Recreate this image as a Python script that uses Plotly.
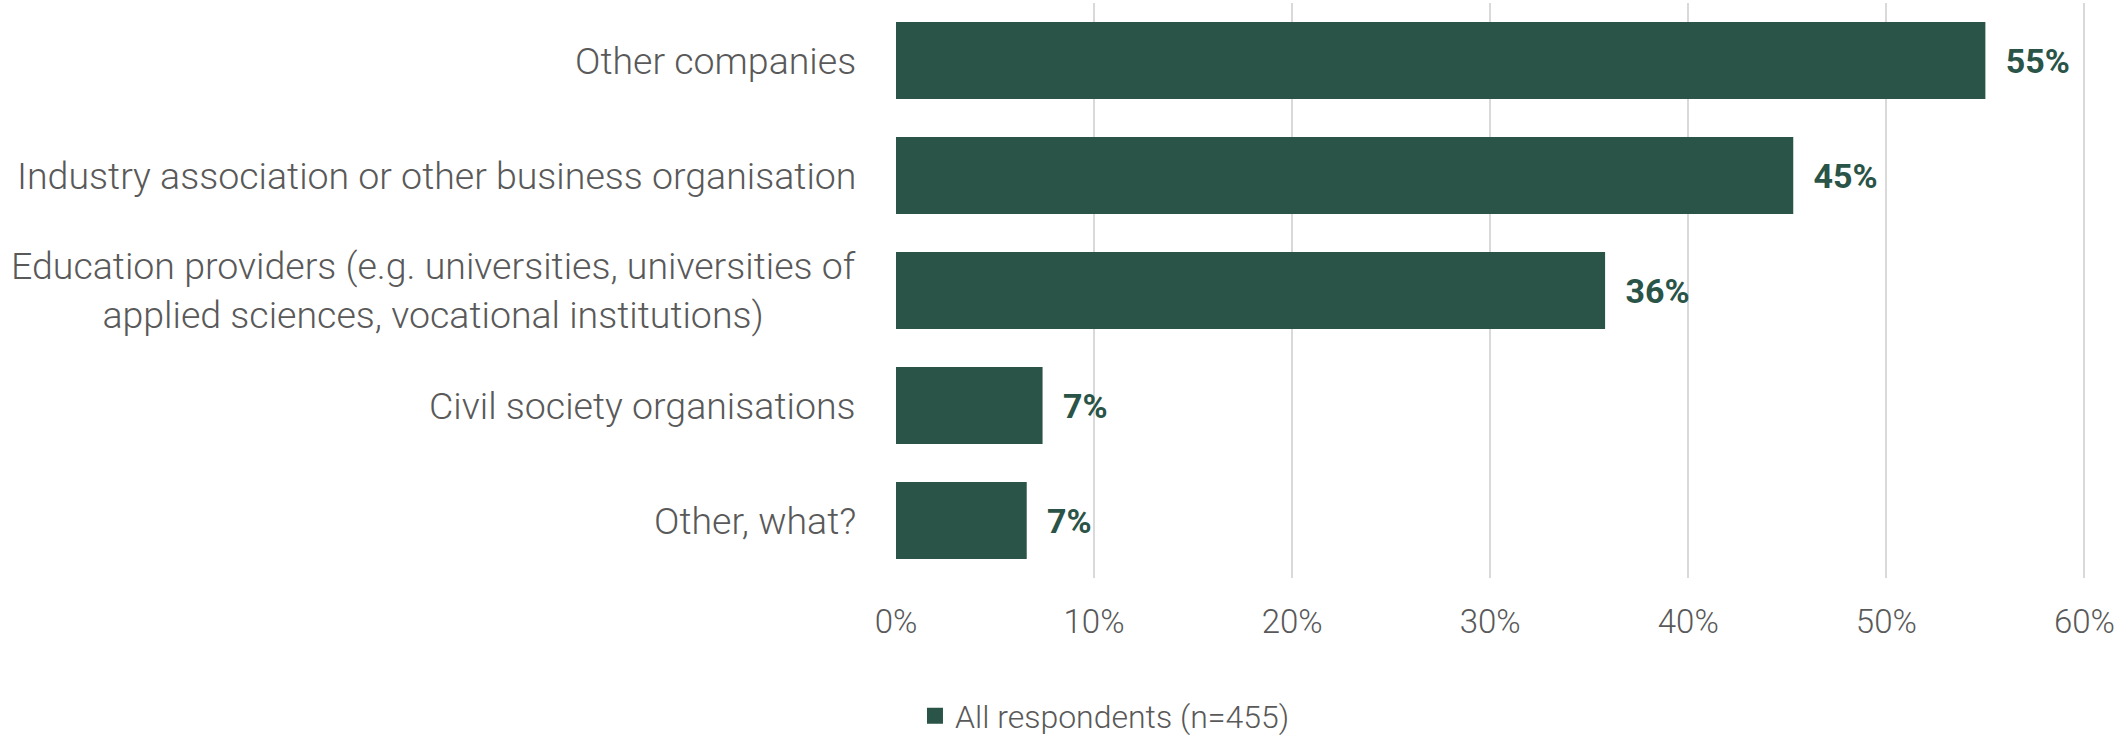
import plotly.graph_objects as go

# Survey categories (top to bottom) and share of respondents
categories = [
    "Other companies",
    "Industry association or other business organisation",
    "Education providers (e.g. universities, universities of<br>applied sciences, vocational institutions)",
    "Civil society organisations",
    "Other, what?",
]
shares = [0.550, 0.453, 0.358, 0.074, 0.066]
series_name = "All respondents (n=455)"
x_ticks = [0, 0.1, 0.2, 0.3, 0.4, 0.5, 0.6]

BAR = "#2a5447"
GREY = "#595959"
FONT = "Roboto, sans-serif"

fig = go.Figure()
fig.add_trace(go.Bar(
    y=categories,
    x=shares,
    orientation="h",
    name=series_name,
    marker=dict(color=BAR, line=dict(width=0)),
    texttemplate="\u2002<b>%{x:.0%}</b>",
    textposition="outside",
    textfont=dict(family=FONT, size=34, color=BAR),
    cliponaxis=False,
    showlegend=False,
))

# Legend entry with a square swatch
fig.add_trace(go.Scatter(
    x=[None], y=[None], mode="markers", name=series_name,
    marker=dict(symbol="square", size=20, color=BAR),
    showlegend=True,
))

# Category labels as annotations so the two-line label can be centred
for c in categories:
    fig.add_annotation(
        x=0, xref="paper", y=c, yref="y",
        text=c, showarrow=False,
        xanchor="right", xshift=-38, align="center",
        font=dict(family=FONT, size=37.5, color=GREY, weight=300),
    )

fig.update_layout(
    width=2118, height=735,
    margin=dict(l=896, r=26, t=3, b=157),
    paper_bgcolor="white", plot_bgcolor="white",
    bargap=0.33,
    font=dict(family=FONT, color=GREY, weight=300),
    legend=dict(
        orientation="h", x=0.432, y=0.026, xref="container", yref="container",
        xanchor="left", yanchor="middle",
        font=dict(family=FONT, size=32, color=GREY, weight=300),
        itemsizing="trace", itemwidth=30,
    ),
    xaxis=dict(
        range=[0, 0.6008], tickvals=x_ticks, tickformat=".0%",
        showgrid=True, gridcolor="#d9d9d9", gridwidth=2,
        zeroline=False, showline=False,
        ticks="", ticklabelstandoff=21, ticklabeloverflow="allow",
        tickfont=dict(family=FONT, size=33, color=GREY, weight=300),
    ),
    yaxis=dict(
        autorange="reversed", showticklabels=False, showgrid=False,
        zeroline=False, showline=False,
    ),
)

fig.write_html("out.html")
